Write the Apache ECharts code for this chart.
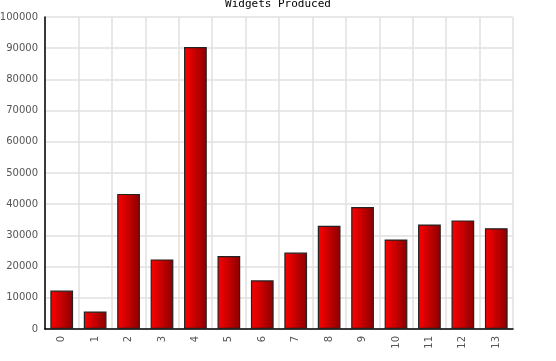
<!DOCTYPE html>
<html>
<head>
<meta charset="utf-8">
<script src="https://cdn.jsdelivr.net/npm/echarts@6/dist/echarts.min.js"></script>
<style>html,body{margin:0;padding:0;background:#fff}#c{width:556px;height:361px}</style>
</head>
<body>
<div id="c"></div>
<script>
const categories = ['0','1','2','3','4','5','6','7','8','9','10','11','12','13'];
const widgets = [12300, 5600, 43300, 22300, 90400, 23400, 15600, 24500, 33100, 39100, 28700, 33500, 34800, 32300];
const yTicks = [0, 10000, 20000, 30000, 40000, 50000, 60000, 70000, 80000, 90000, 100000];

const chart = echarts.init(document.getElementById('c'), null, {renderer: 'canvas'});
chart.setOption({
  animation: false,
  backgroundColor: '#fff',
  title: {
    text: 'Widgets Produced',
    left: 'center',
    top: -6,
    textStyle: {fontFamily: 'DejaVu Sans Mono', fontSize: 11, fontWeight: 'normal', color: '#000'}
  },
  grid: {left: 45, right: 43, top: 17, bottom: 32, containLabel: false, outerBoundsMode: 'none'},
  xAxis: {
    type: 'category',
    data: categories,
    boundaryGap: true,
    axisLine: {lineStyle: {color: '#000', width: 1.5}},
    axisTick: {show: false},
    splitLine: {show: true, lineStyle: {color: '#e0e0e0', width: 1.5}},
    axisLabel: {rotate: 90, color: '#555', fontFamily: 'DejaVu Sans', fontSize: 10, margin: 7, interval: 0}
  },
  yAxis: {
    type: 'value',
    min: yTicks[0],
    max: yTicks[yTicks.length - 1],
    interval: yTicks[1] - yTicks[0],
    axisLine: {show: true, lineStyle: {color: '#000', width: 1.5}},
    axisTick: {show: false},
    splitLine: {show: true, lineStyle: {color: '#e0e0e0', width: 1.5}},
    axisLabel: {color: '#555', fontFamily: 'DejaVu Sans', fontSize: 10, margin: 7, formatter: v => String(v)}
  },
  series: [{
    type: 'bar',
    data: widgets,
    barCategoryGap: '32%',
    itemStyle: {
      color: new echarts.graphic.LinearGradient(0, 0, 1, 0, [
        {offset: 0, color: '#ff0000'},
        {offset: 1, color: '#8a0000'}
      ]),
      borderColor: '#222',
      borderWidth: 1.2
    }
  }]
});
</script>
</body>
</html>
